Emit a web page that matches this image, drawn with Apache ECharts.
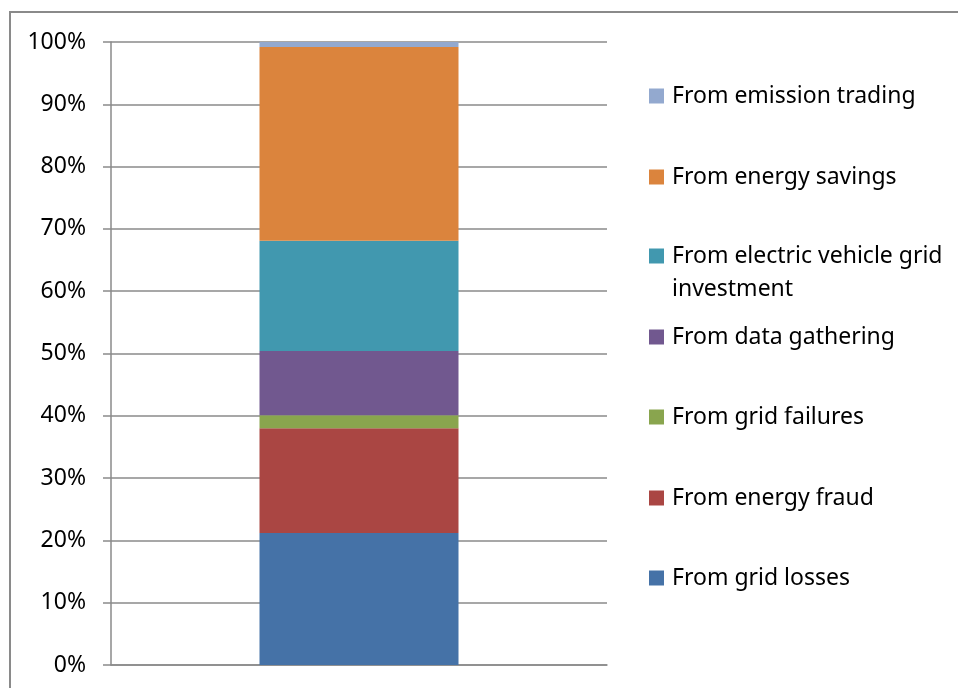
<!DOCTYPE html>
<html>
<head>
<meta charset="utf-8">
<script src="https://cdn.jsdelivr.net/npm/echarts@6/dist/echarts.min.js"></script>
<style>
  html, body { margin: 0; padding: 0; background: #fff; }
  #chart { width: 958px; height: 688px; }
</style>
</head>
<body>
<div id="chart"></div>
<script>
// Share of benefits, stacked to 100% (bottom to top)
const categories = ['Benefits'];
const seriesNames = [
  'From grid losses',
  'From energy fraud',
  'From grid failures',
  'From data gathering',
  'From electric vehicle grid investment',
  'From energy savings',
  'From emission trading'
];
const gridLosses = [21.2];
const energyFraud = [16.8];
const gridFailures = [2.1];
const dataGathering = [10.3];
const evGridInvestment = [17.7];
const energySavings = [31.1];
const emissionTrading = [0.8];
const yTicks = [0, 10, 20, 30, 40, 50, 60, 70, 80, 90, 100];

const seriesValues = [gridLosses, energyFraud, gridFailures, dataGathering,
  evGridInvestment, energySavings, emissionTrading];
const colors = ['#4572A7', '#AA4643', '#89A54E', '#71588F', '#4198AF', '#DB843D', '#93A9CF'];

const FONT = '"Noto Sans", sans-serif';
const FS = 23;
const LH = 26;

// Legend entries listed top to bottom with their icon centre heights
const legendRows = [
  { name: 'From emission trading', c: 96 },
  { name: 'From energy savings', c: 177 },
  { name: 'From electric vehicle grid investment', c: 256, wrap: true },
  { name: 'From data gathering', c: 337 },
  { name: 'From grid failures', c: 417 },
  { name: 'From energy fraud', c: 498 },
  { name: 'From grid losses', c: 578 }
];
const EV_LH = 33;

// the wrapped entry gets a leading blank line so its first line sits beside the swatch
const legends = legendRows.map(row => ({
  data: [row.name],
  orient: 'vertical',
  left: 649,
  top: row.wrap ? row.c - (EV_LH * 3) / 2 : row.c - LH / 2,
  padding: 0,
  icon: 'rect',
  itemWidth: 15,
  itemHeight: 15,
  selectedMode: false,
  formatter: row.wrap ? () => '\nFrom electric vehicle grid\ninvestment' : undefined,
  textStyle: row.wrap
    ? { fontFamily: FONT, fontSize: FS, color: '#000', lineHeight: EV_LH, padding: [0, 0, 0, 3] }
    : { fontFamily: FONT, fontSize: FS, color: '#000', lineHeight: LH, padding: [0, 0, 0, 3] }
}));

const chart = echarts.init(document.getElementById('chart'), null, { renderer: 'canvas' });
chart.setOption({
  animation: false,
  backgroundColor: '#fff',
  graphic: [{
    type: 'rect',
    shape: { x: 10, y: 12, width: 1000, height: 1000 },
    style: { fill: 'none', stroke: '#8a8a8a', lineWidth: 2 },
    silent: true,
    z: -1
  }],
  legend: legends,
  grid: { left: 111, right: 351, top: 42, bottom: 23, containLabel: false },
  xAxis: {
    type: 'category',
    data: categories,
    axisLine: { show: true, lineStyle: { color: '#8a8a8a', width: 1.5 } },
    axisTick: { show: false },
    axisLabel: { show: false }
  },
  yAxis: {
    type: 'value',
    min: yTicks[0],
    max: yTicks[yTicks.length - 1],
    interval: 10,
    axisLine: { show: true, lineStyle: { color: '#8a8a8a', width: 1.5 } },
    axisTick: { show: true, length: 8, inside: false, lineStyle: { color: '#8a8a8a', width: 1.5 } },
    splitLine: { show: true, lineStyle: { color: '#8a8a8a', width: 1.5 } },
    axisLabel: {
      margin: 25,
      fontFamily: FONT,
      fontSize: FS,
      color: '#000',
      formatter: v => v + '%'
    }
  },
  series: seriesNames.map((name, i) => ({
    name: name,
    type: 'bar',
    stack: 'total',
    barWidth: 199,
    itemStyle: { color: colors[i] },
    data: seriesValues[i]
  }))
});
</script>
</body>
</html>
